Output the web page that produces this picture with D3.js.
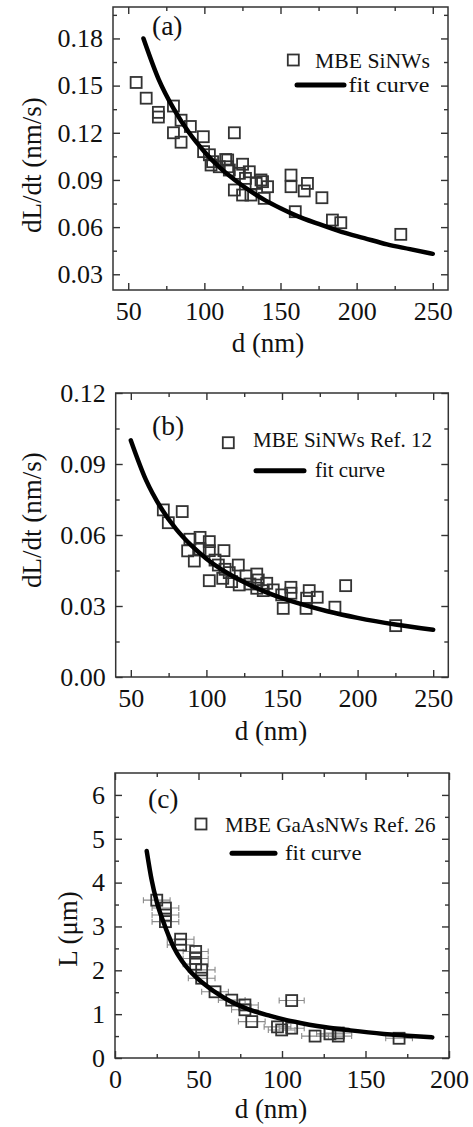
<!DOCTYPE html>
<html><head><meta charset="utf-8">
<script src="https://cdn.jsdelivr.net/npm/d3@7"></script>
<style>
body{margin:0;background:#fff}
svg{display:block;background:#fff}
text{font-family:"Liberation Serif","Times New Roman",serif;fill:#111}
</style>
</head><body>
<svg id="chart" width="473" height="1127"></svg>
<script>
// ---------- Panel (a): MBE SiNWs ----------
const aD = [55.2,61.8,69.8,69.8,79.7,84.7,90.8,79.7,99.3,119.7,84.7,99.5,103.3,105.4,109.8,115.3,115.3,114.0,104.4,116.4,125.1,129.5,123.0,127.0,134.0,119.7,125.1,130.6,138.2,141.5,137.2,139.3,156.9,156.9,167.7,165.6,177.2,159.7,184.1,189.6,229.0];
const aV = [0.152,0.142,0.133,0.130,0.137,0.128,0.124,0.120,0.1175,0.120,0.114,0.108,0.106,0.1016,0.0984,0.1027,0.0984,0.1030,0.0995,0.0963,0.100,0.0952,0.0942,0.091,0.0878,0.0836,0.0804,0.0804,0.0889,0.0857,0.0900,0.0783,0.0931,0.0857,0.0878,0.0830,0.0787,0.0698,0.0645,0.0628,0.0554];
const aFitD = [60,70,80,90,100,110,120,130,140,150,160,175,190,205,220,235,250];
const aFitV = [0.180,0.154,0.135,0.120,0.108,0.098,0.090,0.083,0.077,0.072,0.0675,0.062,0.057,0.053,0.049,0.046,0.043];
const aXTicks = [50,100,150,200,250];
const aXMinor = [75,125,175,225];
const aYTicks = [0.03,0.06,0.09,0.12,0.15,0.18];
const aYMinor = [0.045,0.075,0.105,0.135,0.165,0.195];

// ---------- Panel (b): MBE SiNWs Ref. 12 ----------
const bD = [71.5,84.0,74.8,89.1,95.8,101.9,87.6,92.0,95.8,101.9,111.6,105.7,107.9,112.3,121.1,101.9,110.8,115.1,116.7,121.7,126.2,133.3,128.8,134.3,133.3,139.9,137.6,144.2,150.8,149.8,155.9,155.9,166.3,168.0,173.3,165.9,185.0,192.1,225.2];
const bV = [0.0706,0.0699,0.0652,0.0582,0.0590,0.0572,0.0533,0.0490,0.0540,0.0534,0.0534,0.0494,0.0473,0.0455,0.0473,0.0407,0.0417,0.0441,0.0403,0.0389,0.0427,0.0435,0.0393,0.0410,0.0375,0.0396,0.0365,0.0368,0.0290,0.0347,0.0379,0.0354,0.0333,0.0365,0.0337,0.0290,0.0295,0.0386,0.0217];
const bFitD = [50,60,70,80,90,100,115,130,145,160,180,200,225,250];
const bFitV = [0.100,0.0833,0.0714,0.0625,0.0556,0.050,0.0435,0.0385,0.0345,0.0313,0.0278,0.025,0.0222,0.020];
const bXTicks = [50,100,150,200,250];
const bXMinor = [75,125,175,225];
const bYTicks = [0,0.03,0.06,0.09,0.12];
const bYMinor = [0.015,0.045,0.075,0.105];

// ---------- Panel (c): MBE GaAsNWs Ref. 26 ----------
const cD = [25.0,30.2,30.2,30.2,39.3,39.3,48.3,48.3,48.3,51.9,51.9,59.9,69.9,77.8,77.8,81.9,97.3,99.8,105.8,105.8,119.8,128.7,133.7,133.7,170.1];
const cL = [3.60,3.42,3.26,3.11,2.71,2.58,2.43,2.27,2.14,2.01,1.82,1.51,1.32,1.21,1.10,0.83,0.71,0.64,0.68,1.31,0.50,0.55,0.50,0.57,0.45];
const cErr = [8,8,8,8,8,8,7.5,7.5,7.5,8,8,8,8,8,8,8,8,8,7.5,7.5,8,8,8,8,8];
const cFitD = [19,22,25,29,35,40,45,53,65,80,93,101,111,121,141,161,175,190];
const cFitL = [4.72,4.05,3.56,3.10,2.54,2.22,1.98,1.70,1.38,1.11,0.96,0.88,0.80,0.73,0.63,0.55,0.51,0.47];
const cXTicks = [0,50,100,150,200];
const cXMinor = [25,75,125,175];
const cYTicks = [0,1,2,3,4,5,6];
const cYMinor = [0.5,1.5,2.5,3.5,4.5,5.5];

const svg = d3.select("#chart");
const FONT = '"Liberation Serif","Times New Roman",serif';
const AXC = "#333";

function drawPanel(p){
  const x = d3.scaleLinear().domain(p.xDomain).range([p.left,p.right]);
  const y = d3.scaleLinear().domain(p.yDomain).range([p.bottom,p.top]);
  const g = svg.append("g");
  const pts = p.xs.map((d,i)=>({x:d,y:p.ys[i],e:p.err?p.err[i]:0}));

  if(p.err){
    const eb = g.append("g").attr("stroke","#8a8a8a").attr("stroke-width",1.1).attr("fill","none");
    eb.selectAll("path").data(pts).join("path")
      .attr("d",d=>{
        const x0=x(d.x-d.e), x1=x(d.x+d.e), yy=y(d.y);
        return `M${x0},${yy}H${x1}M${x0},${yy-3}V${yy+3}M${x1},${yy-3}V${yy+3}`;
      });
  }

  g.append("g").selectAll("rect").data(pts).join("rect")
    .attr("x",d=>x(d.x)-5.5).attr("y",d=>y(d.y)-5.5)
    .attr("width",11).attr("height",11)
    .attr("fill","none").attr("stroke","#333").attr("stroke-width",1.8);

  const line = d3.line().x(d=>x(d[0])).y(d=>y(d[1])).curve(d3.curveMonotoneX);
  g.append("path").datum(p.fitX.map((d,i)=>[d,p.fitY[i]]))
    .attr("d",line).attr("fill","none").attr("stroke","#000")
    .attr("stroke-width",4.5).attr("stroke-linecap","round");

  function ax(axis, tr){
    const a = g.append("g").attr("transform",tr).call(axis);
    a.select(".domain").remove();
    a.selectAll("line").attr("stroke",AXC).attr("stroke-width",1.4);
    a.selectAll("text").attr("font-size",26).attr("font-family",FONT).attr("fill","#111");
    return a;
  }
  ax(d3.axisBottom(x).tickValues(p.xMajor).tickSize(-7).tickSizeOuter(0).tickPadding(11.5).tickFormat(d3.format("d")), `translate(0,${p.bottom})`);
  ax(d3.axisBottom(x).tickValues(p.xMinor).tickSize(-4).tickSizeOuter(0).tickFormat(""), `translate(0,${p.bottom})`);
  ax(d3.axisTop(x).tickValues(p.xMajor).tickSize(-7).tickSizeOuter(0).tickFormat(""), `translate(0,${p.top})`);
  ax(d3.axisTop(x).tickValues(p.xMinor).tickSize(-4).tickSizeOuter(0).tickFormat(""), `translate(0,${p.top})`);
  ax(d3.axisLeft(y).tickValues(p.yMajor).tickSize(-7).tickSizeOuter(0).tickPadding(10).tickFormat(d3.format(p.yFmt)), `translate(${p.left},0)`);
  ax(d3.axisLeft(y).tickValues(p.yMinor).tickSize(-4).tickSizeOuter(0).tickFormat(""), `translate(${p.left},0)`);
  ax(d3.axisRight(y).tickValues(p.yMajor).tickSize(-7).tickSizeOuter(0).tickFormat(""), `translate(${p.right},0)`);
  ax(d3.axisRight(y).tickValues(p.yMinor).tickSize(-4).tickSizeOuter(0).tickFormat(""), `translate(${p.right},0)`);

  g.append("rect").attr("x",p.left).attr("y",p.top)
    .attr("width",p.right-p.left).attr("height",p.bottom-p.top)
    .attr("fill","none").attr("stroke",AXC).attr("stroke-width",1.5);

  // panel label
  g.append("text").attr("x",p.labelX).attr("y",p.labelY).attr("font-size",27.5).text(p.label);
  // legend
  const L = p.legend;
  g.append("rect").attr("x",L.sqX-5.5).attr("y",L.sqY-5.5).attr("width",11).attr("height",11)
    .attr("fill","none").attr("stroke","#333").attr("stroke-width",1.8);
  g.append("text").attr("x",L.t1X).attr("y",L.t1Y).attr("font-size",22)
    .attr("textLength",L.t1W).attr("lengthAdjust","spacingAndGlyphs").text(p.seriesName);
  g.append("line").attr("x1",L.lnX1).attr("x2",L.lnX2).attr("y1",L.lnY).attr("y2",L.lnY)
    .attr("stroke","#000").attr("stroke-width",5).attr("stroke-linecap","round");
  g.append("text").attr("x",L.t2X).attr("y",L.t2Y).attr("font-size",22)
    .attr("textLength",L.t2W).attr("lengthAdjust","spacingAndGlyphs").text("fit curve");
  // axis titles
  g.append("text").attr("x",p.xtX).attr("y",p.xtY).attr("text-anchor","middle").attr("font-size",27).text("d (nm)");
  g.append("text").attr("transform",`translate(${p.ytX},${p.ytY}) rotate(-90)`)
    .attr("text-anchor","middle").attr("font-size",27).text(p.yTitle);
}

drawPanel({
  left:113, right:448, top:7, bottom:290,
  xDomain:[40,260], yDomain:[0.02,0.20],
  xMajor:aXTicks, xMinor:aXMinor, yMajor:aYTicks, yMinor:aYMinor, yFmt:".2f",
  xs:aD, ys:aV, fitX:aFitD, fitY:aFitV,
  label:"(a)", labelX:152, labelY:35,
  seriesName:"MBE SiNWs",
  legend:{sqX:293.3,sqY:60,t1X:315,t1Y:68,t1W:115,lnX1:297,lnX2:344,lnY:85,t2X:348.5,t2Y:92,t2W:81},
  xtX:268, xtY:352, ytX:41, ytY:165, yTitle:"dL/dt (nm/s)"
});
drawPanel({
  left:115.7, right:448.3, top:393, bottom:677,
  xDomain:[40,260], yDomain:[0,0.12],
  xMajor:bXTicks, xMinor:bXMinor, yMajor:bYTicks, yMinor:bYMinor, yFmt:".2f",
  xs:bD, ys:bV, fitX:bFitD, fitY:bFitV,
  label:"(b)", labelX:152, labelY:435,
  seriesName:"MBE SiNWs Ref. 12",
  legend:{sqX:228.3,sqY:442.7,t1X:253,t1Y:447,t1W:179,lnX1:256,lnX2:304,lnY:470.7,t2X:315,t2Y:477,t2W:70},
  xtX:271, xtY:740, ytX:41, ytY:520, yTitle:"dL/dt (nm/s)"
});
drawPanel({
  left:115, right:449, top:773, bottom:1058,
  xDomain:[0,200], yDomain:[0,6.5],
  xMajor:cXTicks, xMinor:cXMinor, yMajor:cYTicks, yMinor:cYMinor, yFmt:"d",
  xs:cD, ys:cL, err:cErr, fitX:cFitD, fitY:cFitL,
  label:"(c)", labelX:148, labelY:808,
  seriesName:"MBE GaAsNWs Ref. 26",
  legend:{sqX:201,sqY:824,t1X:225,t1Y:831.5,t1W:210.5,lnX1:232,lnX2:275,lnY:853.3,t2X:285,t2Y:860,t2W:76.5},
  xtX:271, xtY:1118, ytX:77, ytY:929, yTitle:"L (μm)"
});
</script>
</body></html>
